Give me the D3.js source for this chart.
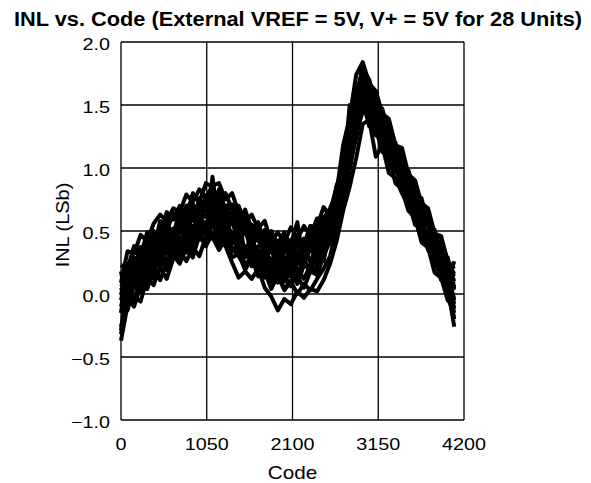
<!DOCTYPE html>
<html>
<head>
<meta charset="utf-8">
<script src="https://cdn.jsdelivr.net/npm/d3@7"></script>
<style>
  body { margin: 0; background: #fff; }
  text { font-family: Arial, "Liberation Sans", sans-serif; fill: #000; }
</style>
</head>
<body>
<div id="chart"></div>
<script>

// codes sampled along the x axis (same for every unit)
var codes = [0, 80, 160, 240, 320, 400, 480, 560, 640, 720, 800, 880, 960, 1040, 1120, 1200,
  1280, 1360, 1440, 1520, 1600, 1680, 1760, 1840, 1920, 2000, 2080, 2160, 2240, 2320, 2400, 2480,
  2560, 2640, 2720, 2800, 2880, 2960, 3040, 3120, 3200, 3280, 3360, 3440, 3520, 3600, 3680, 3760,
  3840, 3920, 4000, 4080];

// INL (LSb), a sample of the 28 units
var unitA = [0.23, 0.20, 0.38, 0.30, 0.49, 0.49, 0.48, 0.65, 0.59, 0.70, 0.62, 0.80, 0.73, 0.88, 0.85, 0.73,
  0.80, 0.67, 0.70, 0.57, 0.63, 0.52, 0.58, 0.41, 0.49, 0.41, 0.53, 0.44, 0.54, 0.46, 0.60, 0.60,
  0.68, 0.81, 1.18, 1.40, 1.74, 1.84, 1.67, 1.61, 1.43, 1.39, 1.18, 1.13, 0.93, 0.90, 0.72, 0.68,
  0.48, 0.44, 0.26, 0.20];
var unitB = [-0.01, 0.24, 0.20, 0.37, 0.31, 0.50, 0.43, 0.56, 0.46, 0.63, 0.63, 0.58, 0.76, 0.66, 0.77, 0.63,
  0.70, 0.71, 0.54, 0.59, 0.43, 0.53, 0.42, 0.48, 0.33, 0.41, 0.34, 0.47, 0.36, 0.50, 0.45, 0.59,
  0.56, 0.83, 1.02, 1.35, 1.58, 1.79, 1.70, 1.50, 1.47, 1.26, 1.20, 1.01, 0.98, 0.79, 0.76, 0.55,
  0.51, 0.32, 0.29, 0.04];
var unitC = [0.10, 0.04, 0.20, 0.16, 0.37, 0.30, 0.45, 0.34, 0.51, 0.48, 0.61, 0.52, 0.62, 0.71, 0.58, 0.67,
  0.52, 0.61, 0.50, 0.55, 0.40, 0.45, 0.30, 0.37, 0.38, 0.26, 0.35, 0.26, 0.42, 0.35, 0.46, 0.40,
  0.59, 0.70, 1.00, 1.20, 1.56, 1.66, 1.63, 1.44, 1.40, 1.30, 1.10, 1.05, 0.84, 0.80, 0.61, 0.59,
  0.40, 0.36, 0.14, 0.08];
var unitD = [-0.29, 0.08, 0.05, 0.25, 0.19, 0.33, 0.25, 0.40, 0.48, 0.38, 0.50, 0.46, 0.60, 0.54, 0.66, 0.51,
  0.59, 0.46, 0.49, 0.33, 0.42, 0.30, 0.37, 0.21, 0.27, 0.29, 0.17, 0.29, 0.24, 0.36, 0.29, 0.48,
  0.49, 0.71, 0.87, 1.16, 1.37, 1.60, 1.47, 1.46, 1.30, 1.24, 1.03, 0.99, 0.82, 0.76, 0.57, 0.54,
  0.34, 0.29, 0.12, -0.05];
var unitE = [-0.32, 0.01, -0.04, 0.12, 0.06, 0.24, 0.27, 0.21, 0.38, 0.32, 0.47, 0.36, 0.48, 0.55, 0.44, 0.52,
  0.39, 0.49, 0.34, 0.38, 0.22, 0.29, 0.28, 0.14, 0.20, 0.10, 0.24, 0.13, 0.24, 0.19, 0.33, 0.26,
  0.52, 0.58, 0.86, 1.04, 1.37, 1.49, 1.44, 1.40, 1.22, 1.16, 1.06, 0.87, 0.83, 0.62, 0.56, 0.40,
  0.36, 0.16, 0.12, -0.20];
var unitF = [-0.37, -0.09, -0.03, -0.06, 0.13, 0.07, 0.21, 0.12, 0.28, 0.34, 0.26, 0.37, 0.30, 0.46, 0.45, 0.35,
  0.44, 0.29, 0.32, 0.19, 0.29, 0.14, 0.18, 0.04, 0.15, 0.04, 0.11, 0.14, 0.05, 0.18, 0.15, 0.30,
  0.42, 0.61, 0.74, 1.02, 1.24, 1.49, 1.43, 1.29, 1.25, 1.06, 0.99, 0.89, 0.70, 0.63, 0.45, 0.41,
  0.25, 0.19, 0.00, -0.20];
var unitG = [-0.10, 0.12, 0.05, 0.22, 0.15, 0.30, 0.22, 0.35, 0.30, 0.42, 0.36, 0.48, 0.44, 0.52, 0.47, 0.42,
  0.38, 0.25, 0.13, 0.18, 0.12, 0.20, 0.05, -0.02, -0.13, -0.04, -0.08, 0.02, -0.03, 0.04, 0.02, 0.11,
  0.24, 0.42, 0.66, 0.85, 1.08, 1.35, 1.38, 1.09, 1.18, 0.96, 0.92, 0.80, 0.70, 0.58, 0.48, 0.36,
  0.26, 0.14, 0.02, -0.12];
var unitH = [0.05, -0.08, 0.16, 0.08, 0.24, 0.18, 0.33, 0.26, 0.38, 0.34, 0.45, 0.40, 0.52, 0.48, 0.56, 0.50,
  0.44, 0.36, 0.30, 0.22, 0.28, 0.18, 0.24, 0.10, 0.15, 0.03, 0.10, 0.00, 0.08, 0.03, 0.12, 0.20,
  0.30, 0.52, 0.72, 0.98, 1.28, 1.45, 1.52, 1.40, 1.28, 1.12, 0.98, 0.90, 0.75, 0.66, 0.52, 0.45,
  0.30, 0.22, 0.06, -0.26];
var unitI = [0.18, -0.12, 0.28, 0.02, 0.38, 0.12, 0.45, 0.20, 0.52, 0.30, 0.60, 0.42, 0.70, 0.45, 0.93, 0.52,
  0.68, 0.40, 0.62, 0.30, 0.50, 0.22, 0.45, 0.18, 0.38, 0.12, 0.40, 0.57, 0.22, 0.48, 0.20, 0.58,
  0.40, 0.85, 0.90, 1.50, 1.50, 1.82, 1.58, 1.50, 1.26, 1.36, 1.04, 1.08, 0.80, 0.86, 0.56, 0.62,
  0.32, 0.40, 0.08, 0.26];
var unitJ = [0.07, 0.03, 0.29, 0.24, 0.39, 0.31, 0.47, 0.56, 0.46, 0.58, 0.50, 0.67, 0.66, 0.61, 0.72, 0.74,
  0.61, 0.65, 0.49, 0.58, 0.46, 0.52, 0.36, 0.41, 0.32, 0.42, 0.29, 0.38, 0.43, 0.37, 0.53, 0.48,
  0.63, 0.73, 1.03, 1.22, 1.54, 1.64, 1.63, 1.49, 1.44, 1.25, 1.18, 1.00, 0.95, 0.78, 0.72, 0.54,
  0.48, 0.31, 0.26, 0.10];
var unitK = [0.13, 0.12, 0.37, 0.29, 0.43, 0.36, 0.58, 0.50, 0.64, 0.55, 0.70, 0.71, 0.63, 0.78, 0.69, 0.83,
  0.66, 0.70, 0.56, 0.67, 0.51, 0.57, 0.39, 0.50, 0.40, 0.49, 0.37, 0.47, 0.37, 0.54, 0.48, 0.61,
  0.60, 0.85, 1.01, 1.36, 1.58, 1.78, 1.59, 1.56, 1.38, 1.36, 1.15, 1.08, 0.89, 0.86, 0.67, 0.64,
  0.44, 0.40, 0.23, 0.14];
var unitL = [-0.05, -0.08, 0.13, 0.08, 0.23, 0.15, 0.34, 0.35, 0.29, 0.45, 0.39, 0.54, 0.43, 0.55, 0.58, 0.45,
  0.53, 0.40, 0.49, 0.34, 0.39, 0.21, 0.30, 0.28, 0.14, 0.23, 0.26, 0.16, 0.27, 0.19, 0.35, 0.34,
  0.53, 0.61, 0.91, 1.08, 1.40, 1.50, 1.49, 1.36, 1.33, 1.12, 1.07, 0.90, 0.84, 0.63, 0.59, 0.42,
  0.38, 0.21, 0.14, -0.08];
var unitM = [-0.15, 0.22, 0.08, 0.37, 0.21, 0.46, 0.28, 0.54, 0.40, 0.64, 0.44, 0.67, 0.49, 0.74, 0.56, 0.77,
  0.51, 0.65, 0.41, 0.60, 0.36, 0.53, 0.28, 0.44, 0.22, 0.45, 0.24, 0.43, 0.23, 0.47, 0.32, 0.60,
  0.49, 0.80, 0.89, 1.27, 1.42, 1.70, 1.49, 1.55, 1.30, 1.31, 1.04, 1.06, 0.81, 0.84, 0.58, 0.60,
  0.34, 0.37, 0.14, 0.11];
var unitN = [-0.15, -0.01, -0.07, 0.12, 0.04, 0.19, 0.27, 0.19, 0.31, 0.24, 0.41, 0.34, 0.49, 0.38, 0.48, 0.39,
  0.48, 0.34, 0.38, 0.21, 0.29, 0.27, 0.13, 0.23, 0.09, 0.14, 0.06, 0.20, 0.12, 0.23, 0.16, 0.32,
  0.46, 0.54, 0.83, 1.03, 1.37, 1.46, 1.47, 1.33, 1.28, 1.09, 1.05, 0.86, 0.79, 0.60, 0.54, 0.38,
  0.34, 0.17, 0.10, -0.11];
var unitO = [0.09, 0.34, 0.32, 0.47, 0.42, 0.56, 0.63, 0.58, 0.68, 0.65, 0.79, 0.73, 0.83, 0.77, 0.86, 0.88,
  0.75, 0.80, 0.65, 0.62, 0.50, 0.53, 0.43, 0.49, 0.36, 0.43, 0.36, 0.43, 0.39, 0.54, 0.53, 0.69,
  0.62, 0.71, 1.01, 1.21, 1.55, 1.64, 1.61, 1.46, 1.42, 1.25, 1.19, 1.00, 0.93, 0.75, 0.70, 0.54,
  0.49, 0.31, 0.24, 0.05];
var unitP = [-0.02, -0.01, 0.24, 0.14, 0.30, 0.39, 0.31, 0.46, 0.35, 0.52, 0.58, 0.51, 0.62, 0.52, 0.70, 0.56,
  0.59, 0.59, 0.41, 0.50, 0.38, 0.46, 0.28, 0.35, 0.22, 0.33, 0.36, 0.25, 0.37, 0.25, 0.41, 0.51,
  0.53, 0.73, 0.90, 1.22, 1.43, 1.65, 1.51, 1.49, 1.30, 1.25, 1.08, 1.03, 0.83, 0.76, 0.58, 0.54,
  0.38, 0.33, 0.14, 0.03];
var unitQ = [-0.08, -0.13, 0.08, 0.04, 0.25, 0.18, 0.31, 0.23, 0.40, 0.40, 0.33, 0.49, 0.43, 0.57, 0.45, 0.53,
  0.55, 0.34, 0.41, 0.22, 0.31, 0.21, 0.27, 0.12, 0.23, 0.10, 0.17, 0.08, 0.23, 0.22, 0.19, 0.41,
  0.44, 0.52, 0.84, 1.03, 1.39, 1.48, 1.46, 1.26, 1.23, 1.04, 1.02, 0.81, 0.74, 0.55, 0.52, 0.35,
  0.29, 0.11, 0.08, -0.15];
var unitR = [-0.05, 0.20, 0.20, 0.37, 0.28, 0.44, 0.43, 0.55, 0.48, 0.65, 0.57, 0.69, 0.59, 0.71, 0.75, 0.61,
  0.70, 0.59, 0.65, 0.48, 0.55, 0.42, 0.51, 0.33, 0.41, 0.35, 0.43, 0.30, 0.44, 0.40, 0.54, 0.48,
  0.64, 0.86, 1.00, 1.32, 1.52, 1.77, 1.64, 1.61, 1.41, 1.37, 1.18, 1.16, 0.95, 0.90, 0.69, 0.66,
  0.48, 0.46, 0.26, 0.16];
var unitS = [0.08, 0.00, 0.18, 0.10, 0.27, 0.36, 0.28, 0.47, 0.38, 0.39, 0.54, 0.44, 0.59, 0.53, 0.67, 0.52,
  0.52, 0.57, 0.43, 0.52, 0.32, 0.38, 0.37, 0.21, 0.33, 0.23, 0.20, 0.32, 0.22, 0.40, 0.32, 0.45,
  0.50, 0.55, 0.85, 1.02, 1.35, 1.53, 1.33, 1.31, 1.13, 1.09, 0.88, 0.83, 0.66, 0.61, 0.41, 0.37,
  0.17, 0.13, -0.05, -0.11];
var unitT = [-0.26, -0.04, -0.10, 0.07, 0.04, 0.22, 0.11, 0.26, 0.32, 0.25, 0.36, 0.29, 0.47, 0.38, 0.57, 0.42,
  0.52, 0.40, 0.46, 0.29, 0.35, 0.35, 0.19, 0.24, 0.12, 0.24, 0.14, 0.24, 0.24, 0.18, 0.35, 0.30,
  0.47, 0.69, 0.87, 1.19, 1.37, 1.60, 1.53, 1.37, 1.35, 1.15, 1.08, 0.90, 0.88, 0.67, 0.60, 0.42,
  0.40, 0.22, 0.15, -0.04];

var units = [unitA, unitB, unitC, unitD, unitE, unitF, unitG, unitH, unitI, unitJ,
  unitK, unitL, unitM, unitN, unitO, unitP, unitQ, unitR, unitS, unitT];

var xTicks = [0, 1050, 2100, 3150, 4200];
var yTicks = [-1.0, -0.5, 0.0, 0.5, 1.0, 1.5, 2.0];

var titleText = "INL vs. Code (External VREF = 5V, V+ = 5V for 28 Units)";

var width = 591, height = 483;
var margin = { top: 42, right: 127, bottom: 63, left: 121 };

var svg = d3.select("#chart").append("svg")
    .attr("width", width)
    .attr("height", height);

var x = d3.scaleLinear()
    .domain([0, 4200])
    .range([margin.left, width - margin.right]);

var y = d3.scaleLinear()
    .domain([-1, 2])
    .range([height - margin.bottom, margin.top]);

// grid (also makes the frame)
svg.append("g")
    .selectAll("line")
    .data(xTicks)
    .enter().append("line")
    .attr("x1", function(d) { return x(d); })
    .attr("x2", function(d) { return x(d); })
    .attr("y1", y(-1))
    .attr("y2", y(2))
    .style("stroke", "#000")
    .style("stroke-width", 1.3);

svg.append("g")
    .selectAll("line")
    .data(yTicks)
    .enter().append("line")
    .attr("x1", x(0))
    .attr("x2", x(4200))
    .attr("y1", function(d) { return y(d); })
    .attr("y2", function(d) { return y(d); })
    .style("stroke", "#000")
    .style("stroke-width", 1.3);

// the units
var line = d3.line()
    .x(function(d, i) { return x(codes[i]); })
    .y(function(d) { return y(d); });

svg.append("g")
    .selectAll("path")
    .data(units)
    .enter().append("path")
    .attr("d", line)
    .style("fill", "none")
    .style("stroke", "#000")
    .style("stroke-width", 4)
    .style("stroke-linejoin", "round");

// tick labels -- the original font is drawn a bit wide, hence the scale
svg.append("g")
    .selectAll("text")
    .data(xTicks)
    .enter().append("text")
    .attr("transform", function(d) { return "translate(" + x(d) + ",450) scale(1.2,1)"; })
    .attr("text-anchor", "middle")
    .style("font-size", "16.5px")
    .text(function(d) { return d; });

svg.append("g")
    .selectAll("text")
    .data(yTicks)
    .enter().append("text")
    .attr("transform", function(d) { return "translate(110," + (y(d) + 8) + ") scale(1.2,1)"; })
    .attr("text-anchor", "end")
    .style("font-size", "16.5px")
    .text(function(d) { return d3.format(".1f")(d); });

// titles
svg.append("text")
    .attr("x", 298)
    .attr("y", 26)
    .attr("text-anchor", "middle")
    .attr("textLength", 568)
    .attr("lengthAdjust", "spacingAndGlyphs")
    .style("font-size", "20px")
    .style("font-weight", "bold")
    .text(titleText);

svg.append("text")
    .attr("transform", "translate(" + (x(0) + x(4200)) / 2 + ",479) scale(1.15,1)")
    .attr("text-anchor", "middle")
    .style("font-size", "18px")
    .text("Code");

svg.append("text")
    .attr("transform", "translate(69,225) rotate(-90) scale(1.08,1)")
    .attr("text-anchor", "middle")
    .style("font-size", "18.5px")
    .text("INL (LSb)");

</script>
</body>
</html>
